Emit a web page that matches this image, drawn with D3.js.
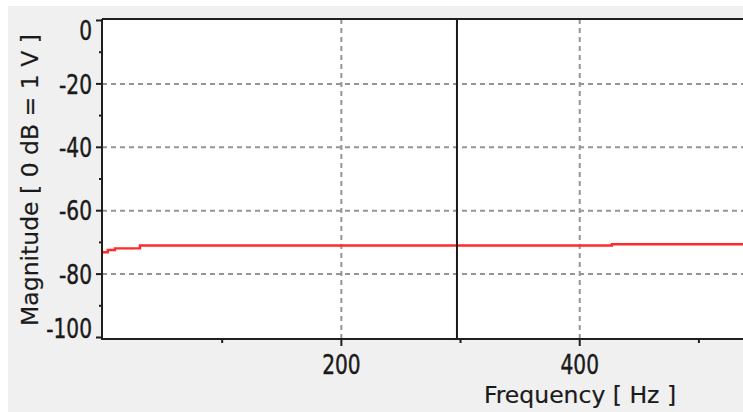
<!DOCTYPE html>
<html>
<head>
<meta charset="utf-8">
<script src="https://cdn.jsdelivr.net/npm/d3@7"></script>
<style>
  html, body { margin: 0; padding: 0; background: #ffffff; }
  svg { display: block; }
  .num { font-family: "DejaVu Sans Condensed", "DejaVu Sans", sans-serif; font-size: 27px; fill: #1a1a1a; stroke: #1a1a1a; stroke-width: 0.45px; }
  .title { font-family: "DejaVu Sans", sans-serif; font-size: 23.5px; fill: #1a1a1a; stroke: #1a1a1a; stroke-width: 0.2px; }
</style>
</head>
<body>
<svg id="chart" width="743" height="412"></svg>
<script>
// Spectrum magnitude trace (step points: frequency in Hz, magnitude in dB re 1 V)
const freqHz = [0, 4, 10, 31, 427, 537];
const magnitudeDb = [-73.1, -72.4, -71.9, -71.0, -70.6, -70.6];

// Cursor position (Hz)
const cursorHz = [297];

// Axis ticks
const xMajorTicks = [200, 400];
const xMinorTicks = [100, 300, 500];
const yMajorTicks = [0, -20, -40, -60, -80, -100];
const yMinorTicks = [-10, -30, -50, -70, -90];

const xLabel = "Frequency [ Hz ]";
const yLabel = "Magnitude [ 0 dB = 1 V ]";

const W = 743, H = 412;
const plot = { left: 102, right: 743, top: 19, bottom: 339 };
const digitSqueeze = 0.83;   // narrow digits for tick labels

const svg = d3.select("#chart");

// window background
svg.append("rect").attr("x", 8).attr("y", 6).attr("width", W - 8).attr("height", H - 6).attr("fill", "#f0f0f0");
// plot area
svg.append("rect").attr("x", plot.left).attr("y", plot.top)
  .attr("width", plot.right - plot.left).attr("height", plot.bottom - plot.top).attr("fill", "#ffffff");

const x = d3.scaleLinear().domain([0, 537]).range([103, 743]);
const y = d3.scaleLinear().domain([-100, 0]).range([337.5, 20.5]);

// dashed grid
const grid = svg.append("g").attr("stroke", "#959595").attr("stroke-width", 2).attr("stroke-dasharray", "5,4");
grid.selectAll("line.gx").data(xMajorTicks).join("line")
  .attr("x1", d => x(d)).attr("x2", d => x(d)).attr("y1", plot.top).attr("y2", plot.bottom);
grid.selectAll("line.gy").data(yMajorTicks.filter(d => d !== 0 && d !== -100)).join("line")
  .attr("x1", plot.left).attr("x2", plot.right).attr("y1", d => y(d)).attr("y2", d => y(d));

// trace
const line = d3.line().x((d, i) => x(freqHz[i])).y(d => y(d)).curve(d3.curveStepAfter);
svg.append("path").datum(magnitudeDb).attr("d", line)
  .attr("fill", "none").attr("stroke", "#ff2a2a").attr("stroke-width", 2.4);

// cursor
svg.selectAll("line.cursor").data(cursorHz).join("line")
  .attr("x1", d => x(d)).attr("x2", d => x(d)).attr("y1", plot.top).attr("y2", plot.bottom)
  .attr("stroke", "#1a1a1a").attr("stroke-width", 2);

// frame
const frame = svg.append("g").attr("stroke", "#1f1f1f").attr("stroke-width", 2);
frame.append("line").attr("x1", plot.left).attr("x2", plot.right).attr("y1", plot.top).attr("y2", plot.top);
frame.append("line").attr("x1", plot.left).attr("x2", plot.left).attr("y1", plot.top).attr("y2", plot.bottom + 1);
frame.append("line").attr("x1", plot.left).attr("x2", plot.right).attr("y1", plot.bottom).attr("y2", plot.bottom);

// ticks
const ticks = svg.append("g").attr("stroke", "#1f1f1f").attr("stroke-width", 2);
ticks.selectAll("line.ymaj").data(yMajorTicks).join("line")
  .attr("x1", plot.left - 6).attr("x2", plot.left).attr("y1", d => y(d)).attr("y2", d => y(d));
ticks.selectAll("line.ymin").data(yMinorTicks).join("line")
  .attr("x1", plot.left - 3).attr("x2", plot.left).attr("y1", d => y(d)).attr("y2", d => y(d));
ticks.selectAll("line.xmaj").data(xMajorTicks).join("line")
  .attr("x1", d => x(d)).attr("x2", d => x(d)).attr("y1", plot.bottom).attr("y2", plot.bottom + 7);
ticks.selectAll("line.xmin").data(xMinorTicks).join("line")
  .attr("x1", d => x(d)).attr("x2", d => x(d)).attr("y1", plot.bottom).attr("y2", plot.bottom + 4);

// y tick labels, kept inside the plot height
svg.selectAll("text.ylab").data(yMajorTicks).join("text")
  .attr("class", "num")
  .attr("transform", d => {
    const cy = Math.max(plot.top + 11, Math.min(plot.bottom - 11, y(d)));
    return `translate(92,${cy}) scale(${digitSqueeze},1)`;
  })
  .attr("dy", "0.36em")
  .attr("text-anchor", "end")
  .text(d => String(d));

// x tick labels
svg.selectAll("text.xlab").data(xMajorTicks).join("text")
  .attr("class", "num")
  .attr("transform", d => `translate(${x(d)},374) scale(${digitSqueeze},1)`)
  .attr("text-anchor", "middle")
  .text(d => d);

// axis titles
svg.append("text").attr("class", "title")
  .attr("x", 580).attr("y", 402.5).attr("text-anchor", "middle").text(xLabel);
svg.append("text").attr("class", "title")
  .attr("transform", "translate(38,180) rotate(-90)")
  .attr("text-anchor", "middle").text(yLabel);
</script>
</body>
</html>
